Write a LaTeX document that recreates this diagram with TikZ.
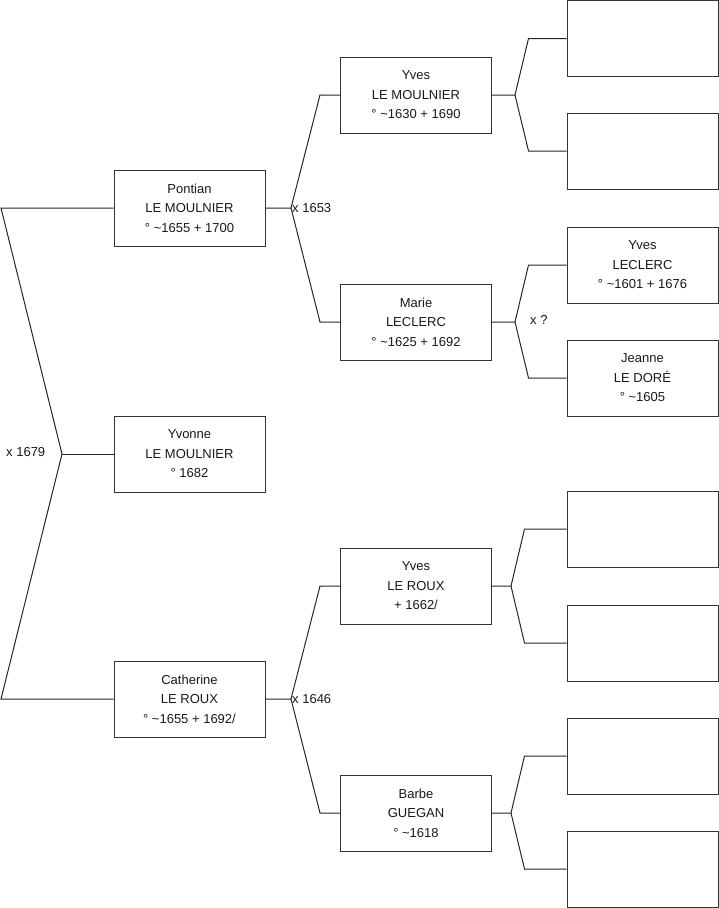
\documentclass[tikz,border=0pt]{standalone}
\usepackage{fontspec}
\setmainfont{Liberation Sans}
\begin{document}
\begin{tikzpicture}[x=1pt,y=-1pt,
  person/.style={draw=black!80, line width=1pt, fill=white, minimum width=151pt, minimum height=76pt,
    inner sep=0pt, align=center, font=\fontsize{13}{19.5}\selectfont, text=black!90},
  link/.style={draw=black!85, line width=1pt},
  lbl/.style={font=\fontsize{13}{15}\selectfont, inner sep=1pt, anchor=west, text=black!90}]
\useasboundingbox (0,0) rectangle (719,908);
% level 1
\node[person] (P) at (189.5,208) {Pontian\\LE MOULNIER\\° \textasciitilde1655 + 1700};
\node[person] (Y) at (189.5,454) {Yvonne\\LE MOULNIER\\° 1682};
\node[person] (C) at (189.5,699) {Catherine\\LE ROUX\\° \textasciitilde1655 + 1692/};
% level 2
\node[person] (YLM) at (416,95) {Yves\\LE MOULNIER\\° \textasciitilde1630 + 1690};
\node[person] (ML) at (416,322) {Marie\\LECLERC\\° \textasciitilde1625 + 1692};
\node[person] (YLR) at (416,586) {Yves\\LE ROUX\\ + 1662/};
\node[person] (BG) at (416,813) {Barbe\\GUEGAN\\° \textasciitilde1618};
% level 3
\node[person] (A1) at (642.5,38.5) {};
\node[person] (A2) at (642.5,151) {};
\node[person] (A3) at (642.5,265) {Yves\\LECLERC\\° \textasciitilde1601 + 1676};
\node[person] (A4) at (642.5,378) {Jeanne\\LE DORÉ\\° \textasciitilde1605};
\node[person] (A5) at (642.5,529) {};
\node[person] (A6) at (642.5,643) {};
\node[person] (A7) at (642.5,756) {};
\node[person] (A8) at (642.5,869) {};
% root fork
\coordinate (r1) at (1,208);
\coordinate (r0) at (62,454);
\coordinate (r2) at (1,699);
\draw[link] (P.west) -- (r1) -- (r0) -- (r2) -- (C.west);
\draw[link] (r0) -- (Y.west);
\node[lbl] (l0) at (5,452) {x 1679};
% level 2 forks
\coordinate (f1) at (291,208);
\draw[link] (P.east) -- (f1) -- ([xshift=-20pt]YLM.west) -- (YLM.west);
\draw[link] (f1) -- ([xshift=-20pt]ML.west) -- (ML.west);
\node[lbl] (l1) at (f1) {x 1653};
\coordinate (f2) at (291,699);
\draw[link] (C.east) -- (f2) -- ([xshift=-20pt]YLR.west) -- (YLR.west);
\draw[link] (f2) -- ([xshift=-20pt]BG.west) -- (BG.west);
\node[lbl] (l2) at (f2) {x 1646};
% level 3 forks
\coordinate (g1) at (515,95);
\draw[link] (YLM.east) -- (g1) -- ([xshift=-38pt]A1.west) -- (A1.west);
\draw[link] (g1) -- ([xshift=-38pt]A2.west) -- (A2.west);
\coordinate (g2) at (515,322);
\draw[link] (ML.east) -- (g2) -- ([xshift=-38pt]A3.west) -- (A3.west);
\draw[link] (g2) -- ([xshift=-38pt]A4.west) -- (A4.west);
\node[lbl] (l3) at (529,320) {x ?};
\coordinate (g3) at (511,586);
\draw[link] (YLR.east) -- (g3) -- ([xshift=-42pt]A5.west) -- (A5.west);
\draw[link] (g3) -- ([xshift=-42pt]A6.west) -- (A6.west);
\coordinate (g4) at (511,813);
\draw[link] (BG.east) -- (g4) -- ([xshift=-42pt]A7.west) -- (A7.west);
\draw[link] (g4) -- ([xshift=-42pt]A8.west) -- (A8.west);
\end{tikzpicture}
\end{document}
